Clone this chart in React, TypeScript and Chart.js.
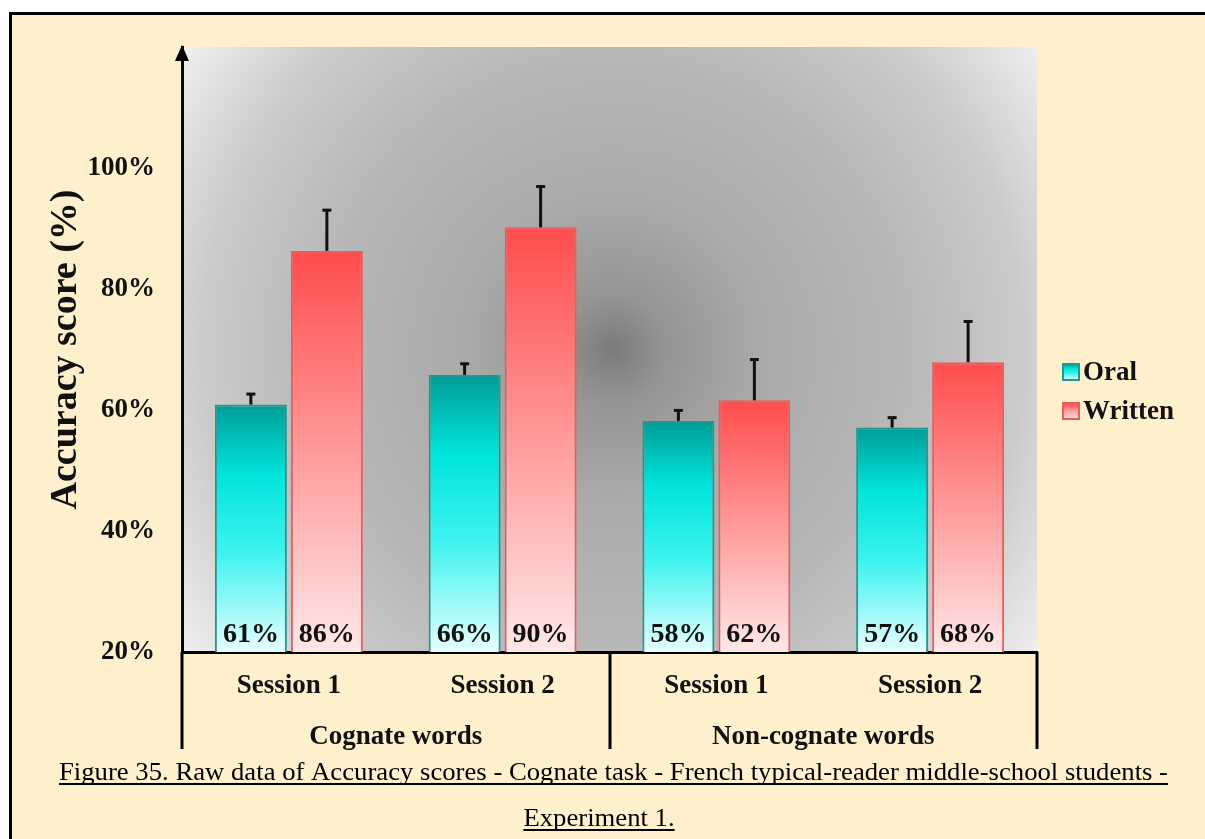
import React, { useEffect, useRef } from 'react';
import { Chart, registerables } from 'chart.js';

Chart.register(...registerables);

// ---- data ----
const sessionLabels = ['Session 1', 'Session 2', 'Session 1', 'Session 2'];
const wordGroups = ['Cognate words', 'Non-cognate words'];
const seriesNames = ['Oral', 'Written'];
const oralValues = [60.9, 65.8, 58.2, 57.1];
const writtenValues = [86.3, 90.2, 61.6, 67.9];
const oralErrors = [1.9, 2.0, 1.9, 1.8];
const writtenErrors = [6.9, 6.9, 6.9, 6.9];
const yTickValues = [20, 40, 60, 80, 100];
const yMin = 20;
const yMax = 120;
const yTitle = 'Accuracy score (%)';
const captionLines = [
  'Figure 35. Raw data of Accuracy scores - Cognate task - French typical-reader middle-school students -',
  'Experiment 1.',
];

// ---- styles ----
const SERIF = '"Liberation Serif", "Times New Roman", serif';
const oralStops: [number, string][] = [
  [0, '#009c96'],
  [0.28, '#00e4dc'],
  [0.6, '#3ef3ef'],
  [1, '#e6ffff'],
];
const writtenStops: [number, string][] = [
  [0, '#ff4c4c'],
  [0.5, '#ff9a9a'],
  [1, '#ffe8e8'],
];
const oralBorder = '#1f9990';
const writtenBorder = '#ef5a5a';

function vGrad(ctx: CanvasRenderingContext2D, top: number, bottom: number, stops: [number, string][]) {
  const g = ctx.createLinearGradient(0, top, 0, bottom);
  stops.forEach(([o, c]) => g.addColorStop(o, c));
  return g;
}

function barFill(stops: [number, string][]) {
  return (c: any) => {
    const chart = c.chart;
    if (!chart.chartArea || c.type !== 'data') return stops[0][1];
    const ys = chart.scales.y;
    const top = ys.getPixelForValue(c.raw);
    const bottom = ys.getPixelForValue(yMin);
    return vGrad(chart.ctx, top, bottom, stops);
  };
}

const backgroundPlugin = {
  id: 'plotBackground',
  beforeDraw(chart: any) {
    const { ctx, chartArea: a } = chart;
    const cx = a.left + (a.right - a.left) * 0.504;
    const cy = a.top + (a.bottom - a.top) * 0.5;
    const r = Math.hypot(Math.max(cx - a.left, a.right - cx), Math.max(cy - a.top, a.bottom - cy));
    const g = ctx.createRadialGradient(cx, cy, 0, cx, cy, r);
    g.addColorStop(0, '#7a7a7a');
    g.addColorStop(0.1, '#949494');
    g.addColorStop(0.28, '#aaaaaa');
    g.addColorStop(0.55, '#b7b7b7');
    g.addColorStop(0.78, '#cbcbcb');
    g.addColorStop(1, '#f0f0f0');
    ctx.save();
    ctx.fillStyle = g;
    ctx.fillRect(a.left, a.top, a.right - a.left, a.bottom - a.top);
    ctx.restore();
  },
};

const overlayPlugin = {
  id: 'overlay',
  afterDatasetsDraw(chart: any) {
    const { ctx, chartArea: a } = chart;
    const ys = chart.scales.y;
    const errs = [oralErrors, writtenErrors];
    ctx.save();
    chart.data.datasets.forEach((ds: any, di: number) => {
      const meta = chart.getDatasetMeta(di);
      meta.data.forEach((el: any, i: number) => {
        const v = ds.data[i];
        const yEnd = ys.getPixelForValue(v + errs[di][i]);
        // error bar (upper whisker)
        ctx.strokeStyle = '#111';
        ctx.lineWidth = 3;
        ctx.beginPath();
        ctx.moveTo(el.x, el.y);
        ctx.lineTo(el.x, yEnd);
        ctx.stroke();
        ctx.beginPath();
        ctx.moveTo(el.x - 4.5, yEnd + 1);
        ctx.lineTo(el.x + 4.5, yEnd + 1);
        ctx.stroke();
        // value label
        ctx.fillStyle = '#111';
        ctx.font = `bold 28px ${SERIF}`;
        ctx.textAlign = 'center';
        ctx.textBaseline = 'alphabetic';
        ctx.fillText(`${Math.round(v)}%`, el.x, a.bottom - 10);
      });
    });
    ctx.restore();
  },
  afterDraw(chart: any) {
    const { ctx, chartArea: a } = chart;
    const xs = chart.scales.x;
    ctx.save();
    // y-axis arrow head
    ctx.fillStyle = '#000';
    ctx.beginPath();
    ctx.moveTo(a.left, a.top - 2);
    ctx.lineTo(a.left - 7, a.top + 14);
    ctx.lineTo(a.left + 7, a.top + 14);
    ctx.closePath();
    ctx.fill();
    // group dividers
    ctx.strokeStyle = '#000';
    ctx.lineWidth = 3;
    [-0.5, 1.5, 3.5].forEach((v) => {
      const x = Math.round(xs.getPixelForValue(v));
      ctx.beginPath();
      ctx.moveTo(x, a.bottom);
      ctx.lineTo(x, 749);
      ctx.stroke();
    });
    // legend
    const legendStops = [oralStops, writtenStops];
    const legendBorders = [oralBorder, writtenBorder];
    const legendY = [372, 411];
    seriesNames.forEach((name, i) => {
      const y = legendY[i];
      ctx.fillStyle = vGrad(ctx, y - 8, y + 8, legendStops[i]);
      ctx.fillRect(1063, y - 8, 16, 16);
      ctx.strokeStyle = legendBorders[i];
      ctx.lineWidth = 2;
      ctx.strokeRect(1063, y - 8, 16, 16);
      ctx.fillStyle = '#111';
      ctx.font = `bold 27px ${SERIF}`;
      ctx.textAlign = 'left';
      ctx.textBaseline = 'middle';
      ctx.fillText(name, 1083, y + 1);
    });
    // caption
    ctx.font = `26px ${SERIF}`;
    ctx.textBaseline = 'alphabetic';
    ctx.textAlign = 'left';
    ctx.fillStyle = '#000';
    const w1 = ctx.measureText(captionLines[0]).width;
    const sx = (1168 - 59) / w1;
    ctx.save();
    ctx.translate(59, 780);
    ctx.scale(sx, 1);
    ctx.fillText(captionLines[0], 0, 0);
    ctx.fillRect(0, 3, w1, 2);
    ctx.restore();
    const w2 = ctx.measureText(captionLines[1]).width;
    ctx.save();
    ctx.translate(599 - (w2 * sx) / 2, 826);
    ctx.scale(sx, 1);
    ctx.fillText(captionLines[1], 0, 0);
    ctx.fillRect(0, 3, w2, 2);
    ctx.restore();
    ctx.restore();
  },
};

export default function App() {
  const canvasRef = useRef<HTMLCanvasElement | null>(null);

  useEffect(() => {
    if (!canvasRef.current) return;
    const tickFont = { family: SERIF, size: 27, weight: 'bold' };
    const chart = new Chart(canvasRef.current, {
      type: 'bar',
      data: {
        labels: sessionLabels,
        datasets: [
          {
            label: seriesNames[0],
            data: oralValues,
            backgroundColor: barFill(oralStops),
            borderColor: oralBorder,
            borderWidth: 2,
          },
          {
            label: seriesNames[1],
            data: writtenValues,
            backgroundColor: barFill(writtenStops),
            borderColor: writtenBorder,
            borderWidth: 2,
          },
        ],
      },
      options: {
        responsive: false,
        animation: false,
        layout: { padding: { left: 0, right: 168, top: 47, bottom: 87 } },
        datasets: { bar: { categoryPercentage: 0.711, barPercentage: 0.947 } },
        plugins: {
          legend: { display: false },
          tooltip: { enabled: false },
        },
        scales: {
          x: {
            type: 'category',
            position: 'bottom',
            weight: 0,
            grid: { display: false, drawTicks: false, tickLength: 0 },
            border: { display: true, color: '#000', width: 3 },
            ticks: {
              color: '#111',
              font: tickFont,
              padding: 18,
              maxRotation: 0,
              autoSkip: false,
            },
            afterFit: (s: any) => {
              s.height = 50;
            },
          },
          x2: {
            type: 'category',
            position: 'bottom',
            weight: 1,
            labels: wordGroups,
            offset: true,
            grid: { display: false, drawTicks: false, tickLength: 0 },
            border: { display: false },
            ticks: {
              color: '#111',
              font: tickFont,
              padding: 19,
              maxRotation: 0,
              autoSkip: false,
            },
            afterFit: (s: any) => {
              s.height = 50;
            },
          },
          y: {
            min: yMin,
            max: yMax,
            grid: { display: false, drawTicks: false, tickLength: 0 },
            border: { display: true, color: '#000', width: 3 },
            afterBuildTicks: (s: any) => {
              s.ticks = [...yTickValues, yMax].map((v) => ({ value: v }));
            },
            ticks: {
              color: '#111',
              font: tickFont,
              padding: 27,
              callback: (v: any) => (yTickValues.includes(Number(v)) ? `${v}%` : ''),
            },
            title: {
              display: true,
              text: yTitle,
              color: '#111',
              font: { family: SERIF, size: 38, weight: 'bold' },
              padding: { top: 43, bottom: 0 },
            },
            afterFit: (s: any) => {
              s.width = 182;
            },
          },
        },
      },
      plugins: [backgroundPlugin, overlayPlugin],
    } as any);
    return () => chart.destroy();
  }, []);

  return (
    <div style={{ position: 'fixed', left: 0, top: 0, width: 1205, height: 839, background: '#fff', overflow: 'hidden' }}>
      <div
        style={{
          position: 'absolute',
          left: 9,
          top: 12,
          right: 0,
          bottom: 0,
          background: 'rgb(255,240,205)',
          borderLeft: '3px solid #000',
          borderTop: '3px solid #000',
        }}
      />
      <canvas ref={canvasRef} width={1205} height={839} style={{ position: 'absolute', left: 0, top: 0, width: 1205, height: 839 }} />
    </div>
  );
}
